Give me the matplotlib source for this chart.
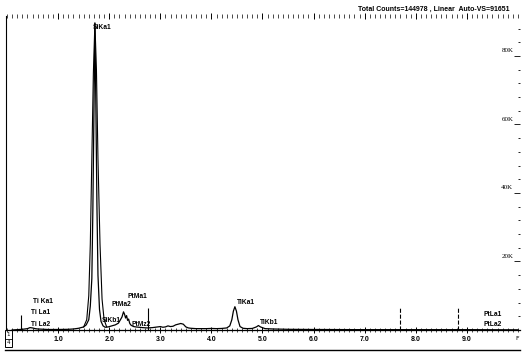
import matplotlib
matplotlib.use("Agg")
import matplotlib.pyplot as plt
from matplotlib.lines import Line2D
from matplotlib.patches import Rectangle
from matplotlib.ticker import MultipleLocator, FixedLocator

# ---- data ----
energy_kev = [0.10, 0.20, 0.30, 0.40, 0.45, 0.50, 0.55, 0.60, 0.80, 1.00, 1.20, 1.30, 1.40,
              1.50, 1.55, 1.60, 1.63, 1.66, 1.68, 1.70, 1.72, 1.74, 1.76, 1.78, 1.81, 1.84,
              1.88, 1.92, 1.98, 2.05, 2.12, 2.18, 2.22, 2.25, 2.28, 2.30, 2.32, 2.34, 2.36,
              2.38, 2.40, 2.42, 2.45, 2.48, 2.52, 2.58, 2.65, 2.75, 2.85, 2.95, 3.00, 3.05,
              3.10, 3.15, 3.20, 3.25, 3.30, 3.35, 3.40, 3.45, 3.50, 3.55, 3.60, 3.70, 3.80,
              3.90, 4.00, 4.10, 4.20, 4.30, 4.36, 4.40, 4.43, 4.46, 4.49, 4.52, 4.56, 4.62,
              4.70, 4.80, 4.88, 4.92, 4.96, 5.05, 5.20, 5.50, 6.00, 7.00, 8.00, 9.00, 10.00]
counts = [0, 100, 200, 400, 700, 600, 400, 300, 150, 150, 200, 300, 500,
          900, 1500, 3000, 7000, 15000, 35000, 62000, 89600, 64000, 36000, 16000, 6000, 2500,
          1200, 800, 900, 1200, 1500, 2000, 3000, 3800, 5300, 4600, 3500, 4200, 2800,
          3200, 2000, 1500, 1200, 1000, 900, 800, 700, 600, 700, 900, 1000, 800,
          900, 1200, 1000, 1100, 1500, 1700, 1900, 1700, 900, 600, 500, 400, 400,
          400, 450, 400, 450, 600, 1200, 3000, 5500, 6800, 5500, 3000, 1000, 500,
          400, 450, 900, 1300, 900, 400, 300, 200, 150, 100, 100, 100, 50]

# second (outer) trace around the Si peak
si_outer_energy = [1.50, 1.56, 1.60, 1.63, 1.66, 1.69, 1.72, 1.75, 1.78, 1.82, 1.86, 1.90, 1.95]
si_outer_counts = [900, 3000, 10000, 25000, 50000, 75000, 89600, 76000, 50000, 25000, 9000, 3000, 900]

peak_labels = ["SiKa1", "Ti Ka1", "Ti La1", "Ti La2", "SiKb1", "PtMa2", "PtMa1", "PtMz2",
               "TiKa1", "TiKb1", "PtLa1", "PtLa2"]
peak_label_e = [1.68, 0.51, 0.47, 0.47, 1.86, 2.04, 2.35, 2.43, 4.50, 4.95, 9.32, 9.32]
peak_label_c = [88200, 8200, 5000, 1750, 2900, 7300, 9900, 1750, 7900, 2300, 4400, 1500]

marker_e = [0.28, 2.76, 7.69, 8.83]
marker_top = [4400, 6400, 6400, 6400]
marker_style = ["-", "-", "--", "--"]

x_tick_values = [1, 2, 3, 4, 5, 6, 7, 8, 9]
x_tick_labels = ["1.0", "2.0", "3.0", "4.0", "5.0", "6.0", "7.0", "8.0", "9.0"]
y_tick_values = [20000, 40000, 60000, 80000]
y_tick_labels = ["20K", "40K", "60K", "80K"]
header = "Total Counts=144978 , Linear  Auto-VS=91651"
y_max = 91651

# ---- figure ----
W, H = 527, 355
fig = plt.figure(figsize=(W / 100, H / 100), dpi=100)
fig.patch.set_facecolor("white")
ax = fig.add_axes([6 / W, (H - 330) / H, 514 / W, 314 / H])
ax.set_xlim(-0.02, 10.04)
ax.set_ylim(0, y_max)

ax.plot(energy_kev, counts, color="black", lw=0.9)
ax.plot(si_outer_energy, si_outer_counts, color="black", lw=0.8)

for e, top, ls in zip(marker_e, marker_top, marker_style):
    ax.vlines(e, 0, top, color="black", lw=0.8, linestyles=ls)

for lab, e, c in zip(peak_labels, peak_label_e, peak_label_c):
    ax.text(e, c, lab, fontsize=4.8, fontweight="bold", family="Liberation Sans",
            ha="left", va="center", color="black")

# spines
ax.spines["top"].set_visible(False)
ax.spines["right"].set_visible(False)
ax.spines["left"].set_linewidth(0.8)
ax.spines["bottom"].set_linewidth(0.9)

# x ticks (bottom + top)
ax.xaxis.set_major_locator(FixedLocator(x_tick_values))
ax.set_xticklabels(x_tick_labels)
ax.xaxis.set_minor_locator(MultipleLocator(0.1))
ax.tick_params(axis="x", which="major", direction="inout", length=5, width=0.7,
               top=True, bottom=True, labelsize=5, pad=2)
ax.tick_params(axis="x", which="minor", direction="inout", length=3, width=0.5,
               top=True, bottom=True)
for t in ax.get_xticklabels():
    t.set_family("Liberation Sans")
    t.set_fontweight("bold")

# y ticks on the right, labels inside
ax.yaxis.set_major_locator(FixedLocator(y_tick_values))
ax.yaxis.set_minor_locator(MultipleLocator(4000))
ax.tick_params(axis="y", which="both", left=False, right=True, labelleft=False,
               labelright=False, direction="in", width=0.6)
ax.tick_params(axis="y", which="major", length=4)
ax.tick_params(axis="y", which="minor", length=1.5)
for v, lab in zip(y_tick_values, y_tick_labels):
    ax.text(0.987, v + 1500, lab, transform=ax.get_yaxis_transform(), fontsize=5,
            family="Liberation Serif", ha="right", va="center", color="black")

# header
fig.text(510 / W, 1 - 9 / H, header, fontsize=5, fontweight="bold",
         family="Liberation Sans", ha="right", va="center")

# bottom frame and little boxes
fig.add_artist(Line2D([5 / W, 520 / W], [1 - 350 / H, 1 - 350 / H],
                      color="black", lw=1.0))
fig.add_artist(Rectangle((5 / W, 1 - 347 / H), 7 / W, 17 / H, fill=False,
                         lw=0.7, edgecolor="black"))
fig.add_artist(Line2D([5 / W, 12 / W], [1 - 339 / H, 1 - 339 / H], color="black", lw=0.6))
fig.text(8.5 / W, 1 - 334.5 / H, "1", fontsize=4, ha="center", va="center")
fig.text(8.5 / W, 1 - 343 / H, "4", fontsize=4, ha="center", va="center")
fig.text(517 / W, 1 - 339 / H, "F", fontsize=4.5, ha="center", va="center")

fig.savefig("out.png", dpi=100, facecolor="white")
